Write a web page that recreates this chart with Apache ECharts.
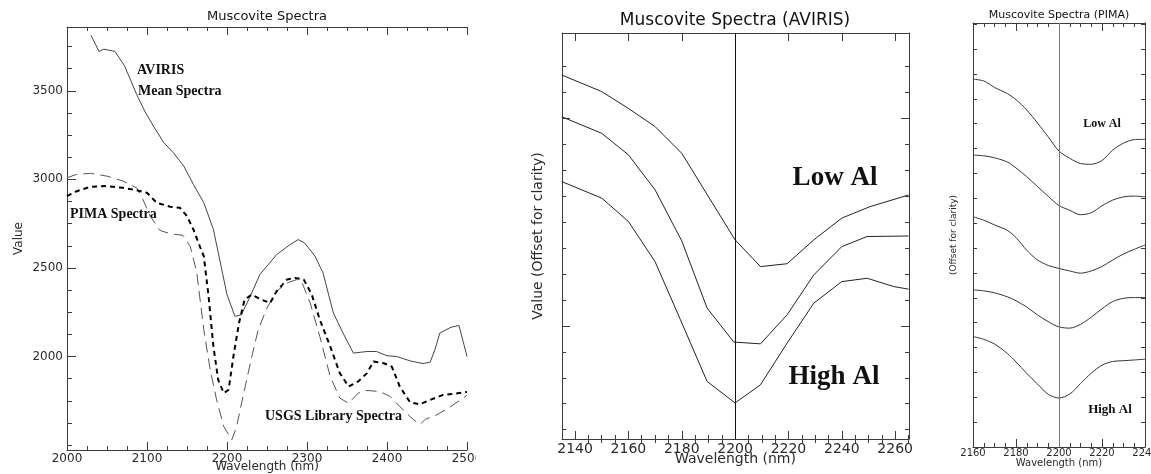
<!DOCTYPE html>
<html>
<head>
<meta charset="utf-8">
<script src="https://cdn.jsdelivr.net/npm/echarts@6/dist/echarts.min.js"></script>
<style>
html, body { margin: 0; padding: 0; background: #fff; overflow: hidden; }
.panel { position: absolute; top: 0; height: 474px; overflow: hidden; }
</style>
</head>
<body>
<div id="left" class="panel" style="left:0;width:476px"></div>
<div id="mid" class="panel" style="left:476px;width:464px"></div>
<div id="right" class="panel" style="left:940px;width:211px"></div>
<script>
// --- left panel: Muscovite Spectra (nm, value)
var aviWave = [2030, 2040, 2046, 2060, 2072, 2087, 2097, 2108, 2121, 2133, 2146, 2158, 2171, 2183, 2200, 2210, 2218, 2229, 2241, 2262, 2279, 2289, 2297, 2310, 2320, 2333, 2345, 2358, 2375, 2387, 2400, 2412, 2429, 2445, 2454, 2460, 2466, 2480, 2490, 2500];
var aviValue = [3813, 3722, 3735, 3722, 3640, 3480, 3386, 3301, 3207, 3150, 3075, 2971, 2868, 2717, 2349, 2226, 2236, 2339, 2462, 2575, 2632, 2660, 2641, 2566, 2472, 2245, 2132, 2019, 2028, 2028, 2004, 2000, 1975, 1960, 1968, 2040, 2132, 2165, 2175, 2000];
var pimaWave = [2000, 2012, 2029, 2050, 2070, 2087, 2100, 2112, 2129, 2141, 2150, 2158, 2166, 2171, 2177, 2183, 2189, 2196, 2202, 2208, 2215, 2222, 2231, 2243, 2254, 2262, 2275, 2285, 2296, 2306, 2316, 2329, 2341, 2352, 2364, 2375, 2383, 2396, 2406, 2416, 2429, 2441, 2454, 2470, 2485, 2500];
var pimaValue = [2905, 2933, 2958, 2962, 2952, 2939, 2924, 2868, 2845, 2840, 2792, 2717, 2622, 2566, 2339, 2057, 1868, 1793, 1812, 2000, 2189, 2321, 2349, 2321, 2302, 2368, 2434, 2443, 2434, 2349, 2208, 2057, 1906, 1830, 1859, 1906, 1972, 1962, 1943, 1830, 1740, 1730, 1755, 1783, 1790, 1800];
var usgsWave = [2000, 2012, 2029, 2050, 2070, 2087, 2095, 2104, 2116, 2129, 2145, 2154, 2162, 2171, 2179, 2187, 2196, 2206, 2212, 2220, 2231, 2239, 2250, 2262, 2275, 2287, 2294, 2304, 2316, 2329, 2341, 2352, 2364, 2375, 2391, 2404, 2416, 2429, 2441, 2448, 2462, 2477, 2490, 2500];
var usgsValue = [3009, 3028, 3034, 3018, 2990, 2952, 2886, 2792, 2712, 2693, 2684, 2622, 2480, 2151, 1925, 1755, 1604, 1529, 1604, 1774, 2000, 2151, 2274, 2368, 2415, 2434, 2415, 2302, 2113, 1887, 1765, 1736, 1793, 1808, 1802, 1774, 1717, 1660, 1615, 1646, 1670, 1708, 1750, 1780];
var leftMajor = [2000, 2500, 3000, 3500];

// --- middle panel: AVIRIS, offset units
var lowWave = [2135, 2150, 2160, 2170, 2180, 2200, 2209.5, 2219.5, 2229.5, 2240, 2250.5, 2265];
var lowValue = [14.04, 13.40, 12.75, 12.05, 11.02, 7.68, 6.65, 6.76, 7.68, 8.52, 8.96, 9.41];
var midWave = [2135, 2150, 2160, 2170, 2180, 2189.5, 2199.5, 2209.5, 2219.5, 2229.5, 2240, 2249.5, 2265];
var midValue = [12.43, 11.79, 10.96, 9.61, 7.64, 5.05, 3.74, 3.67, 4.79, 6.33, 7.42, 7.81, 7.83];
var highWave = [2135, 2150, 2160, 2170, 2179.5, 2189.5, 2200, 2209.5, 2219.5, 2229.5, 2240, 2249.5, 2259.5, 2265];
var highValue = [9.93, 9.29, 8.39, 6.84, 4.60, 2.22, 1.39, 2.09, 3.70, 5.24, 6.07, 6.20, 5.88, 5.78];
var midTickLabels = [2140, 2160, 2180, 2200, 2220, 2240, 2260];

// --- right panel: PIMA, offset units
var pimaNm = [2160, 2165, 2170, 2176, 2180, 2185, 2190, 2195, 2200, 2205, 2210, 2215, 2220, 2225, 2230, 2235, 2240];
var pima1 = [14.79, 14.72, 14.46, 14.21, 13.97, 13.55, 13.03, 12.47, 11.90, 11.61, 11.40, 11.37, 11.52, 11.94, 12.22, 12.36, 12.37];
var pima2 = [11.74, 11.71, 11.63, 11.46, 11.22, 10.87, 10.47, 10.08, 9.71, 9.52, 9.34, 9.42, 9.70, 9.93, 10.06, 10.09, 10.06];
var pima3 = [9.26, 9.12, 8.93, 8.71, 8.42, 7.91, 7.52, 7.30, 7.18, 7.08, 6.99, 7.08, 7.26, 7.52, 7.76, 7.95, 8.12];
var pima4 = [6.32, 6.28, 6.20, 6.04, 5.88, 5.63, 5.31, 5.04, 4.83, 4.78, 4.93, 5.22, 5.56, 5.85, 5.98, 6.01, 6.01];
var pima5 = [4.44, 4.33, 4.14, 3.76, 3.42, 2.96, 2.53, 2.12, 1.97, 2.13, 2.55, 2.97, 3.29, 3.44, 3.47, 3.50, 3.53];

var AX = '#3c3c3c';
var TXT = '#2a2a2a';
var SANS = 'DejaVu Sans';
var SERIF = 'Liberation Serif';

function pairs(xs, ys) {
	return xs.map(function(x, i) { return [x, ys[i]]; });
}

function plain(v) { return String(v); }

function steps(from, to, step, skip) {
	var out = [];
	for (var v = from; v <= to + 1e-9; v += step) {
		var r = Math.round(v * 100) / 100;
		if (!skip || skip.indexOf(r) < 0) out.push(r);
	}
	return out;
}

// axis that only draws ticks (and optionally line/labels)
function tickAxis(pos, min, max, len, ticks, extra) {
	var a = {
		type: 'value', position: pos, min: min, max: max,
		axisLine: { show: true, onZero: false, lineStyle: { color: AX, width: 1 } },
		axisTick: { show: true, inside: true, length: len, lineStyle: { color: AX, width: 1 } },
		axisLabel: { show: false },
		splitLine: { show: false },
		nameMoveOverlap: false
	};
	if (ticks) a.axisTick.customValues = ticks;
	for (var k in extra) a[k] = extra[k];
	return a;
}

function label(size, margin, values) {
	var l = { show: true, margin: margin, fontFamily: SANS, fontSize: size, color: TXT, formatter: plain };
	if (values) l.customValues = values;
	return l;
}

function line(xs, ys, color, width, type, smooth) {
	return {
		type: 'line', data: pairs(xs, ys), showSymbol: false, symbol: 'none',
		smooth: smooth || false, silent: true,
		lineStyle: { color: color, width: width, type: type || 'solid' }
	};
}

function txt(x, y, s, font, align) {
	return {
		type: 'text', x: x, y: y, silent: true,
		style: { text: s, font: font, fill: '#111', textAlign: align || 'center', textVerticalAlign: 'middle' }
	};
}

// ---------- left
var left = echarts.init(document.getElementById('left'));
var minorX = { show: true, splitNumber: 4, length: 4, lineStyle: { color: AX } };
left.setOption({
	animation: false,
	grid: { left: 67, right: 9, top: 27, bottom: 24, outerBoundsMode: 'none' },
	xAxis: [
		tickAxis('bottom', 2000, 2500, 8, null, {
			interval: 100, minorTick: minorX,
			axisLabel: label(12, 3),
			name: 'Wavelength (nm)', nameLocation: 'middle', nameGap: 11,
			nameTextStyle: { fontFamily: SANS, fontSize: 12, color: TXT }
		}),
		tickAxis('top', 2000, 2500, 8, null, { interval: 100, minorTick: minorX })
	],
	yAxis: [
		tickAxis('left', 1472, 3860, 9, leftMajor, {
			axisLabel: label(12, 4, leftMajor),
			name: 'Value', nameLocation: 'middle', nameGap: 42, nameRotate: 90,
			nameTextStyle: { fontFamily: SANS, fontSize: 12, color: TXT }
		}),
		tickAxis('left', 1472, 3860, 5, steps(1500, 3750, 125, leftMajor), { axisLine: { show: false } })
	],
	graphic: [
		txt(267, 17, 'Muscovite Spectra', '13px ' + SANS),
		txt(137, 70, 'AVIRIS', 'bold 14px ' + SERIF, 'left'),
		txt(138, 91, 'Mean Spectra', 'bold 14px ' + SERIF, 'left'),
		txt(70, 214, 'PIMA Spectra', 'bold 14px ' + SERIF, 'left'),
		txt(265, 416, 'USGS Library Spectra', 'bold 14px ' + SERIF, 'left')
	],
	series: [
		line(aviWave, aviValue, '#444', 1),
		line(usgsWave, usgsValue, '#555', 1, [11, 6]),
		line(pimaWave, pimaValue, '#000', 2, [5, 4])
	]
});

// ---------- middle
var mid = echarts.init(document.getElementById('mid'));
var midMinor = steps(2140, 2265, 5, midTickLabels);
var midYMajor = [4.36, 12.36];
var midYMinor = steps(0.36, 14.36, 1, midYMajor);
var MX0 = 2135.1, MX1 = 2265.2, MY1 = 15.66;
var midLines = line(lowWave, lowValue, '#222', 1);
midLines.markLine = {
	silent: true, symbol: 'none', label: { show: false },
	lineStyle: { color: '#111', type: 'solid', width: 1 },
	data: [{ xAxis: 2200 }]
};
mid.setOption({
	animation: false,
	grid: { left: 86, right: 31, top: 33, bottom: 35, outerBoundsMode: 'none' },
	xAxis: [
		tickAxis('bottom', MX0, MX1, 8, midTickLabels, {
			axisLabel: label(14, 3, midTickLabels),
			name: 'Wavelength (nm)', nameLocation: 'middle', nameGap: 13,
			nameTextStyle: { fontFamily: SANS, fontSize: 14, color: TXT }
		}),
		tickAxis('bottom', MX0, MX1, 4, midMinor, { axisLine: { show: false } }),
		tickAxis('top', MX0, MX1, 8, midTickLabels),
		tickAxis('top', MX0, MX1, 4, midMinor, { axisLine: { show: false } })
	],
	yAxis: [
		tickAxis('left', 0, MY1, 8, midYMajor, {
			name: 'Value (Offset for clarity)', nameLocation: 'middle', nameGap: 17, nameRotate: 90,
			nameTextStyle: { fontFamily: SANS, fontSize: 14, color: TXT }
		}),
		tickAxis('left', 0, MY1, 4, midYMinor, { axisLine: { show: false } }),
		tickAxis('right', 0, MY1, 8, midYMajor),
		tickAxis('right', 0, MY1, 4, midYMinor, { axisLine: { show: false } })
	],
	graphic: [
		txt(259, 21, 'Muscovite Spectra (AVIRIS)', '17px ' + SANS),
		txt(359, 178, 'Low Al', 'bold 27px ' + SERIF),
		txt(358, 377, 'High Al', 'bold 27px ' + SERIF)
	],
	series: [
		midLines,
		line(midWave, midValue, '#222', 1),
		line(highWave, highValue, '#222', 1)
	]
});

// ---------- right
var right = echarts.init(document.getElementById('right'));
var minorR = { show: true, splitNumber: 4, length: 4, lineStyle: { color: AX } };
var rightLines = line(pimaNm, pima1, '#333', 1, 'solid', 0.3);
rightLines.markLine = {
	silent: true, symbol: 'none', label: { show: false },
	lineStyle: { color: '#777', type: 'solid', width: 1 },
	data: [{ xAxis: 2200 }]
};
right.setOption({
	animation: false,
	grid: { left: 33, right: 6, top: 23, bottom: 27, outerBoundsMode: 'none' },
	xAxis: [
		tickAxis('bottom', 2160, 2240, 8, null, {
			interval: 20, minorTick: minorR,
			axisLabel: label(10, 1),
			name: 'Wavelength (nm)', nameLocation: 'middle', nameGap: 11,
			nameTextStyle: { fontFamily: SANS, fontSize: 10, color: TXT }
		}),
		tickAxis('top', 2160, 2240, 8, null, { interval: 20, minorTick: minorR })
	],
	yAxis: [
		tickAxis('left', 0, 17.05, 4, null, {
			interval: 1,
			name: '(Offset for clarity)', nameLocation: 'middle', nameGap: 15, nameRotate: 90,
			nameTextStyle: { fontFamily: SANS, fontSize: 9, color: TXT }
		}),
		tickAxis('right', 0, 17.05, 4, null, { interval: 1 })
	],
	graphic: [
		txt(119, 15, 'Muscovite Spectra (PIMA)', '11px ' + SANS),
		txt(162, 124, 'Low Al', 'bold 12px ' + SERIF),
		txt(170, 410, 'High Al', 'bold 13px ' + SERIF)
	],
	series: [
		rightLines,
		line(pimaNm, pima2, '#333', 1, 'solid', 0.3),
		line(pimaNm, pima3, '#333', 1, 'solid', 0.3),
		line(pimaNm, pima4, '#333', 1, 'solid', 0.3),
		line(pimaNm, pima5, '#333', 1, 'solid', 0.3)
	]
});
</script>
</body>
</html>
